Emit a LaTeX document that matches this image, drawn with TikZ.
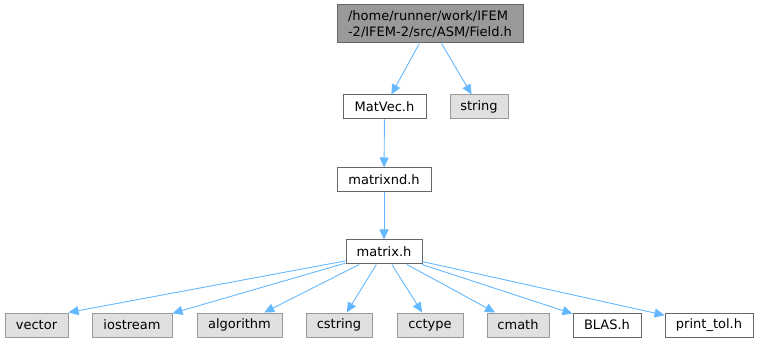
\documentclass[tikz,border=0pt]{standalone}
\usepackage{fontspec}
\setmainfont{DejaVu Sans}
\usetikzlibrary{arrows.meta,positioning}
\definecolor{edgeblue}{HTML}{63B8FF}
\definecolor{darkborder}{HTML}{666666}
\definecolor{lightborder}{HTML}{999999}
\definecolor{lightfill}{HTML}{E0E0E0}
\begin{document}
\begin{tikzpicture}[x=1pt,y=-1pt,every node/.style={draw=darkborder,fill=white,line width=1pt,minimum height=24pt,inner sep=2pt,font=\fontsize{13}{16}\selectfont},
sysinc/.style={draw=lightborder,fill=lightfill},
inc/.style={draw=edgeblue,line width=0.9pt,-{Triangle[length=10pt,width=9pt]}}]
\useasboundingbox (0,0) rectangle (759,344);
\node[fill=lightborder,minimum width=186pt,minimum height=38pt,align=left](F)at(430,24){/home/runner/work/IFEM\\-2/IFEM-2/src/ASM/Field.h};
\node[minimum width=83pt](MV)at(384.5,107){MatVec.h};
\node[sysinc,minimum width=58pt](STR)at(479,107){string};
\node[minimum width=94pt](MND)at(384,180){matrixnd.h};
\node[minimum width=76pt](M)at(384,252){matrix.h};
\node[sysinc,minimum width=63pt](VEC)at(36.5,325){vector};
\node[sysinc,minimum width=80pt](IOS)at(132,325){iostream};
\node[sysinc,minimum width=85pt](ALG)at(239.5,325){algorithm};
\node[sysinc,minimum width=66pt](CSTR)at(339,325){cstring};
\node[sysinc,minimum width=66pt](CCT)at(430,325){cctype};
\node[sysinc,minimum width=62pt](CM)at(518,325){cmath};
\node[minimum width=68pt](BLAS)at(607,325){BLAS.h};
\node[minimum width=88pt](PT)at(709,325){print\_tol.h};
\draw[inc](F)--(MV);\draw[inc](F)--(STR);\draw[inc](MV)--(MND);\draw[inc](MND)--(M);
\draw[inc](M.193)--(VEC.north east);\draw[inc](M)--(IOS);\draw[inc](M)--(ALG);\draw[inc](M)--(CSTR);
\draw[inc](M)--(CCT);\draw[inc](M)--(CM);\draw[inc](M)--(BLAS);\draw[inc](M.346)--(PT);
\end{tikzpicture}
\end{document}
